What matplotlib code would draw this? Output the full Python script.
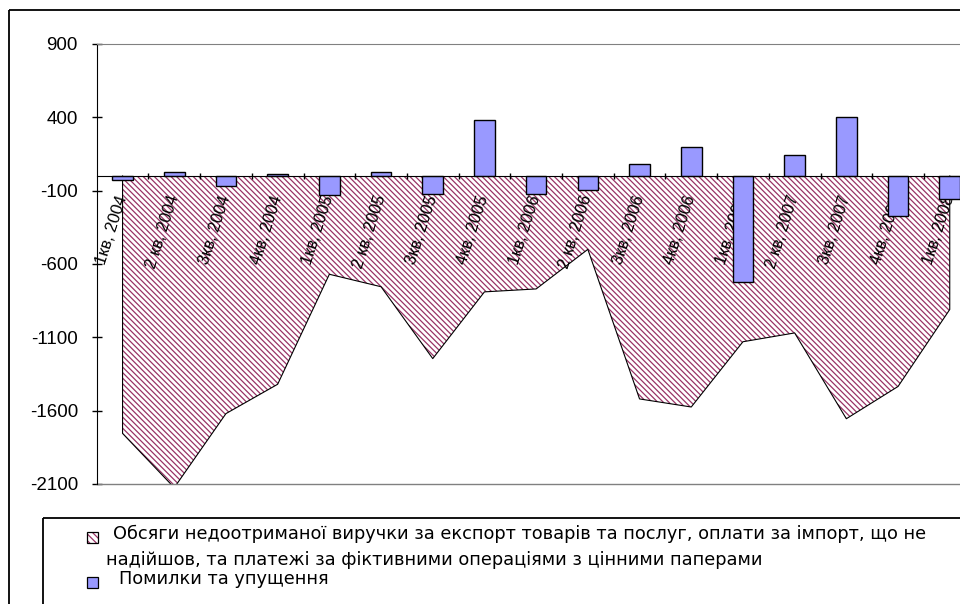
import numpy as np
import matplotlib
matplotlib.use("Agg")
import matplotlib.pyplot as plt
from matplotlib.patches import Rectangle

plt.rcParams.update({"font.family": "Liberation Sans", "hatch.linewidth": 0.9,
                     "axes.unicode_minus": False})

# quarterly balance of payments items, mln USD
quarters = ["1кв, 2004", "2 кв, 2004", "3кв, 2004", "4кв, 2004",
            "1кв, 2005", "2 кв, 2005", "3кв, 2005", "4кв, 2005",
            "1кв, 2006", "2 кв, 2006", "3кв, 2006", "4кв, 2006",
            "1кв, 2007", "2 кв, 2007", "3кв, 2007", "4кв, 2007",
            "1кв, 2008"]
lost_revenue = [-1755, -2125, -1620, -1420, -670, -755, -1245, -790, -770,
                -500, -1520, -1575, -1130, -1070, -1655, -1435, -910]
errors = [-25, 25, -70, 15, -130, 25, -120, 380, -125, -95, 80, 200,
          -725, 145, 400, -275, -155]
yticks = [900, 400, -100, -600, -1100, -1600, -2100]

legend_lines = ["Обсяги недоотриманої виручки за експорт товарів та послуг, оплати за імпорт, що не",
                "надійшов, та платежі за фіктивними операціями з цінними паперами",
                "Помилки та упущення"]

HATCH = "\\" * 6
HATCH_COLOR = "#993366"
BAR_COLOR = "#9999ff"
W, H = 960, 604

fig = plt.figure(figsize=(W / 100, H / 100), dpi=100)
fig.patch.set_facecolor("white")

# plot area in pixels: y axis at x=97, 900 at y=44, -2100 at y=484, 51.7 px per quarter
left, top, bottom, step = 96.7, 44, 484, 51.7
ax = fig.add_axes([left / W, (H - bottom) / H, step * len(quarters) / W, (bottom - top) / H])

x = np.arange(len(quarters))
xs = np.r_[x[0], x, x[-1]]
ys = np.r_[0, lost_revenue, 0]
ax.fill(xs, ys, facecolor="white", edgecolor=HATCH_COLOR, hatch=HATCH, linewidth=0, zorder=1)
ax.plot(xs, ys, color="black", lw=0.8, zorder=2)
ax.bar(x, errors, width=0.4, color=BAR_COLOR, edgecolor="black", linewidth=1.0, zorder=3)

ax.set_xlim(-0.5, len(quarters) - 0.5)
ax.set_ylim(-2100, 900)

ax.spines["bottom"].set_position(("data", 0))
ax.spines["bottom"].set_zorder(4)
ax.spines["right"].set_visible(False)
ax.spines["top"].set_color("#808080")
ax.axhline(-2100, color="#808080", lw=1.0, clip_on=False)

ax.set_yticks(yticks)
ax.tick_params(axis="y", direction="inout", length=7, width=1, pad=10, labelsize=13.5)

ax.set_xticks(x)
ax.set_xticklabels(quarters)
ax.set_xticks(np.arange(0.5, len(quarters) - 1), minor=True)
ax.tick_params(axis="x", which="major", length=0, pad=14, labelsize=12)
ax.tick_params(axis="x", which="minor", direction="inout", length=5, width=1)
for lbl in ax.get_xticklabels():
    lbl.set_rotation(72)
    lbl.set_rotation_mode("anchor")
    lbl.set_ha("right")
    lbl.set_va("center")
    lbl.set_zorder(5)

# outer frame and legend drawn on a pixel overlay
ov = fig.add_axes([0, 0, 1, 1], zorder=10)
ov.set_xlim(0, W)
ov.set_ylim(H, 0)
ov.axis("off")
ov.patch.set_visible(False)
ov.add_patch(Rectangle((9, 10), 1000, 700, fill=False, lw=1.3, edgecolor="black"))
ov.add_patch(Rectangle((43, 518), 1000, 200, fill=False, lw=1.3, edgecolor="black"))

ov.add_patch(Rectangle((87, 532), 11, 11, facecolor="white", edgecolor=HATCH_COLOR,
                       hatch="\\" * 5, lw=0))
ov.add_patch(Rectangle((87, 532), 11, 11, fill=False, edgecolor="black", lw=0.9))
ov.add_patch(Rectangle((87, 577), 11, 11, facecolor=BAR_COLOR, edgecolor="black", lw=0.9))

legend_font = dict(fontsize=12.8, family="DejaVu Sans", va="center", ha="left")
ov.text(113, 534, legend_lines[0], **legend_font)
ov.text(106, 560, legend_lines[1], **legend_font)
ov.text(119, 579, legend_lines[2], **legend_font)

fig.savefig("out.png", dpi=100)
